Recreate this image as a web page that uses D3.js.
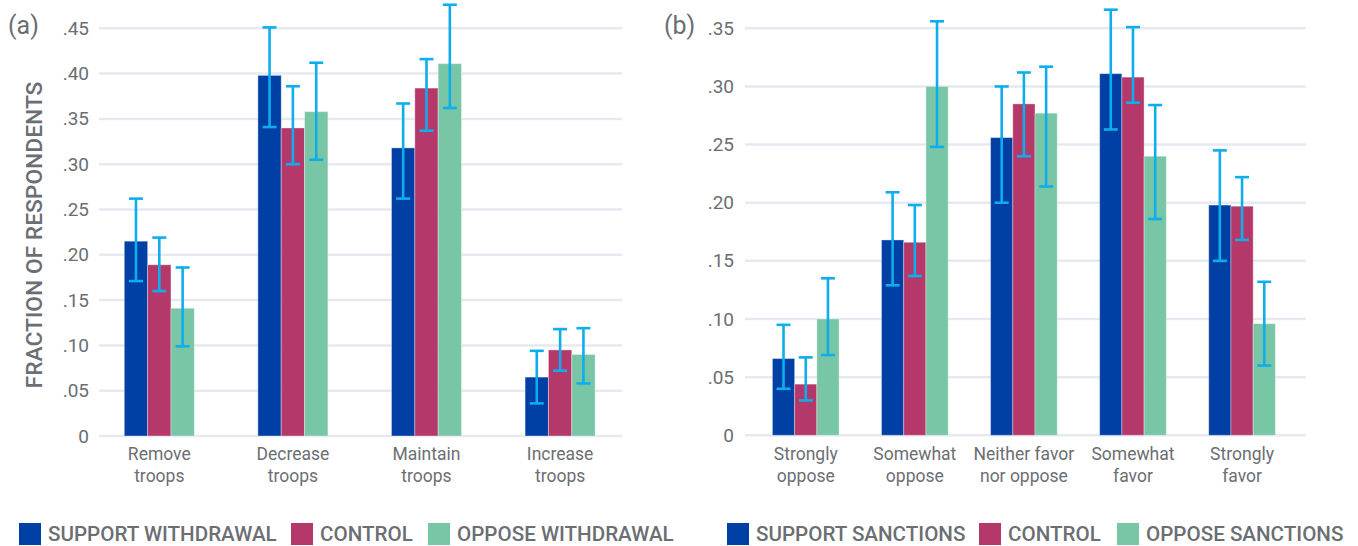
<!DOCTYPE html>
<html>
<head>
<meta charset="utf-8">
<script src="https://cdn.jsdelivr.net/npm/d3@7/dist/d3.min.js"></script>
<style>
  html, body { margin: 0; padding: 0; background: #fff; }
  svg { display: block; font-family: Roboto, "Noto Sans", sans-serif; }
</style>
</head>
<body>
<svg id="chart" width="1358" height="546"></svg>
<script>
// ---- Panel (a): troop levels ----
const troopCategories = [["Remove", "troops"], ["Decrease", "troops"], ["Maintain", "troops"], ["Increase", "troops"]];
const troopSeries = ["SUPPORT WITHDRAWAL", "CONTROL", "OPPOSE WITHDRAWAL"];
const troopSupport     = [0.215, 0.398, 0.318, 0.065];
const troopSupportLow  = [0.171, 0.341, 0.262, 0.036];
const troopSupportHigh = [0.262, 0.451, 0.367, 0.094];
const troopControl     = [0.189, 0.340, 0.384, 0.095];
const troopControlLow  = [0.160, 0.300, 0.337, 0.072];
const troopControlHigh = [0.219, 0.386, 0.416, 0.118];
const troopOppose      = [0.141, 0.358, 0.411, 0.090];
const troopOpposeLow   = [0.099, 0.305, 0.362, 0.058];
const troopOpposeHigh  = [0.186, 0.412, 0.476, 0.119];
const troopTicks = [0, 0.05, 0.10, 0.15, 0.20, 0.25, 0.30, 0.35, 0.40, 0.45];

// ---- Panel (b): sanctions ----
const sanctionCategories = [["Strongly", "oppose"], ["Somewhat", "oppose"], ["Neither favor", "nor oppose"], ["Somewhat", "favor"], ["Strongly", "favor"]];
const sanctionSeries = ["SUPPORT SANCTIONS", "CONTROL", "OPPOSE SANCTIONS"];
const sanctionSupport     = [0.066, 0.168, 0.256, 0.311, 0.198];
const sanctionSupportLow  = [0.040, 0.129, 0.200, 0.263, 0.150];
const sanctionSupportHigh = [0.095, 0.209, 0.300, 0.366, 0.245];
const sanctionControl     = [0.044, 0.166, 0.285, 0.308, 0.197];
const sanctionControlLow  = [0.030, 0.137, 0.240, 0.286, 0.168];
const sanctionControlHigh = [0.067, 0.198, 0.312, 0.351, 0.222];
const sanctionOppose      = [0.100, 0.300, 0.277, 0.240, 0.096];
const sanctionOpposeLow   = [0.069, 0.248, 0.214, 0.186, 0.060];
const sanctionOpposeHigh  = [0.135, 0.356, 0.317, 0.284, 0.132];
const sanctionTicks = [0, 0.05, 0.10, 0.15, 0.20, 0.25, 0.30, 0.35];

const colors = ["#0040A4", "#B5386B", "#78C6A6"];
const errColor = "#0DAEEB";
const textColor = "#6B6E73";
const gridColor = "#E6E9F2";

const svg = d3.select("#chart");
const fmt = v => v === 0 ? "0" : d3.format(".2f")(v).replace(/^0/, "");

function drawPanel(cfg) {
  const g = svg.append("g");
  const y = d3.scaleLinear().domain(cfg.yDomain).range(cfg.yRange);
  const x0 = d3.scaleBand()
    .domain(d3.range(cfg.categories.length))
    .range(cfg.xRange)
    .paddingInner(cfg.padInner)
    .paddingOuter(cfg.padInner / 2);
  const x1 = d3.scaleBand().domain(d3.range(cfg.series.length)).range([0, x0.bandwidth()]);

  // gridlines
  g.append("g").selectAll("line").data(cfg.ticks).join("line")
    .attr("x1", cfg.gridX[0]).attr("x2", cfg.gridX[1])
    .attr("y1", d => y(d)).attr("y2", d => y(d))
    .attr("stroke", gridColor).attr("stroke-width", 2.5);

  // y tick labels
  g.append("g").selectAll("text").data(cfg.ticks).join("text")
    .attr("x", cfg.tickX).attr("y", d => y(d))
    .attr("text-anchor", "end").attr("dominant-baseline", "central")
    .attr("font-size", 19).attr("fill", textColor)
    .text(fmt);

  // bars
  cfg.values.forEach((vals, s) => {
    g.append("g").selectAll("rect").data(vals).join("rect")
      .attr("x", (d, i) => x0(i) + x1(s))
      .attr("width", x1.bandwidth())
      .attr("y", d => y(d))
      .attr("height", d => y(0) - y(d))
      .attr("fill", colors[s])
      .attr("stroke", "rgba(255,255,255,0.35)").attr("stroke-width", 1);
  });

  // error bars
  cfg.values.forEach((vals, s) => {
    const eg = g.append("g").attr("stroke", errColor).attr("stroke-width", 2.6);
    vals.forEach((v, i) => {
      const cx = x0(i) + x1(s) + x1.bandwidth() / 2;
      const lo = y(cfg.lows[s][i]), hi = y(cfg.highs[s][i]);
      eg.append("line").attr("x1", cx).attr("x2", cx).attr("y1", lo).attr("y2", hi);
      eg.append("line").attr("x1", cx - 7).attr("x2", cx + 7).attr("y1", lo).attr("y2", lo);
      eg.append("line").attr("x1", cx - 7).attr("x2", cx + 7).attr("y1", hi).attr("y2", hi);
    });
  });

  // category labels
  const cl = g.append("g").selectAll("text").data(cfg.categories).join("text")
    .attr("text-anchor", "middle").attr("font-size", 17.5).attr("fill", textColor)
    .attr("transform", (d, i) => `translate(${x0(i) + x0.bandwidth() / 2},0)`);
  cl.selectAll("tspan").data(d => d).join("tspan")
    .attr("x", 0).attr("y", (d, j) => 460 + j * 22).text(d => d);

  // panel tag
  g.append("text").attr("x", cfg.tagX).attr("y", 34)
    .attr("font-size", 25).attr("fill", textColor).text(cfg.tag);

  // legend
  const lg = g.append("g");
  cfg.legendX.forEach((lx, s) => {
    lg.append("rect").attr("x", lx).attr("y", 523).attr("width", 22).attr("height", 22).attr("fill", colors[s]);
    lg.append("text").attr("x", lx + 29).attr("y", 534).attr("dominant-baseline", "central")
      .attr("font-size", 20.6).attr("font-weight", 500).attr("fill", textColor).text(cfg.series[s]);
  });
}

drawPanel({
  categories: troopCategories,
  series: troopSeries,
  values: [troopSupport, troopControl, troopOppose],
  lows: [troopSupportLow, troopControlLow, troopOpposeLow],
  highs: [troopSupportHigh, troopControlHigh, troopOpposeHigh],
  ticks: troopTicks,
  yDomain: [0, 0.45], yRange: [436, 28.3],
  xRange: [92.5, 626.9], padInner: 0.476,
  gridX: [99, 622], tickX: 89,
  tag: "(a)", tagX: 8,
  legendX: [19, 291, 428]
});

drawPanel({
  categories: sanctionCategories,
  series: sanctionSeries,
  values: [sanctionSupport, sanctionControl, sanctionOppose],
  lows: [sanctionSupportLow, sanctionControlLow, sanctionOpposeLow],
  highs: [sanctionSupportHigh, sanctionControlHigh, sanctionOpposeHigh],
  ticks: sanctionTicks,
  yDomain: [0, 0.35], yRange: [435.3, 28.3],
  xRange: [751.2, 1296.6], padInner: 0.389,
  gridX: [745, 1306], tickX: 734,
  tag: "(b)", tagX: 664,
  legendX: [727, 979, 1117]
});

// y-axis title for the left panel
svg.append("text")
  .attr("transform", "translate(42,235) rotate(-90)")
  .attr("text-anchor", "middle").attr("font-size", 22.8).attr("font-weight", 500)
  .attr("fill", textColor)
  .text("FRACTION OF RESPONDENTS");
</script>
</body>
</html>
